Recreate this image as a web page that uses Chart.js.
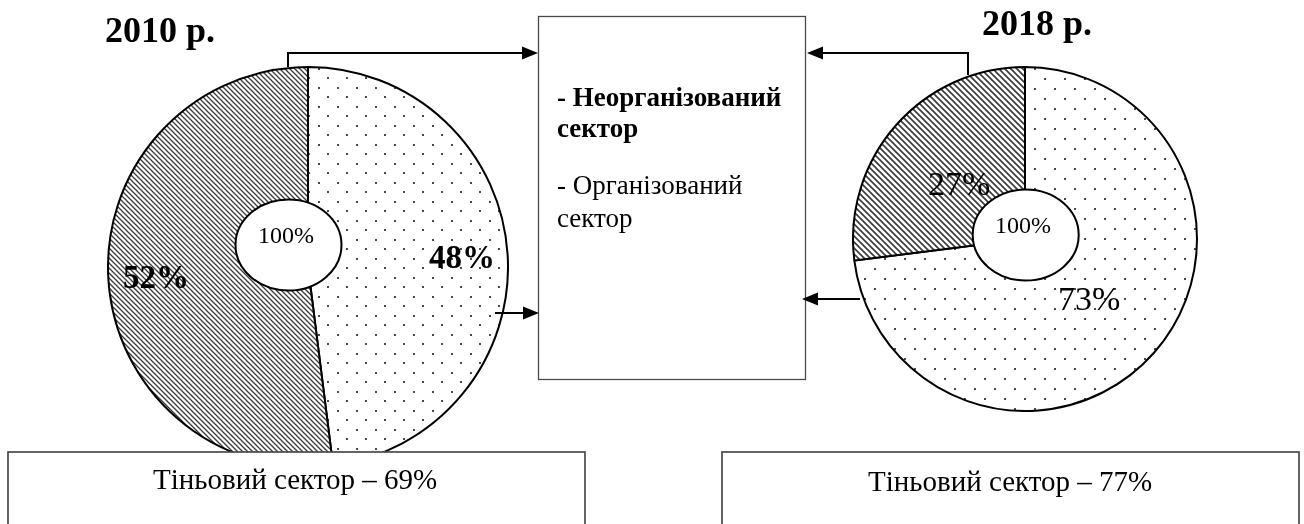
<!DOCTYPE html>
<html lang="uk">
<head>
<meta charset="utf-8">
<title>Тіньовий сектор 2010 / 2018</title>
<script src="https://cdn.jsdelivr.net/npm/chart.js@4.4.1/dist/chart.umd.min.js"></script>
<style>
    html, body { margin: 0; padding: 0; background: #fff; }
    #stage { position: relative; width: 1304px; height: 524px; overflow: hidden; }
    #stage canvas { position: absolute; }
    #pie2010 { left: 107px; top: 66px; }
    #pie2018 { left: 852px; top: 66px; }
    #overlay { position: absolute; left: 0; top: 0; pointer-events: none; }
    #overlay text { font-family: "Liberation Serif", "Times New Roman", serif; fill: #000; }
</style>
</head>
<body>
<div id="stage">
    <canvas id="pie2010" width="402" height="402"></canvas>
    <canvas id="pie2018" width="346" height="346"></canvas>
    <svg id="overlay" width="1304" height="524" xmlns="http://www.w3.org/2000/svg">
        <!-- bottom boxes cover the lower edge of the 2010 pie -->
        <rect x="8" y="452" width="577" height="100" fill="#fff" stroke="#4a4a4a" stroke-width="1.7"/>
        <rect x="722" y="452" width="577" height="100" fill="#fff" stroke="#4a4a4a" stroke-width="1.7"/>
        <text id="shadow2010" x="153" y="489" font-size="29"></text>
        <text id="shadow2018" x="868" y="491" font-size="29"></text>

        <!-- legend box -->
        <rect x="538.5" y="16.5" width="267" height="363" fill="#fff" stroke="#4a4a4a" stroke-width="1.3"/>
        <text id="legendA1" x="557" y="106" font-size="27" font-weight="bold"></text>
        <text id="legendA2" x="557" y="137" font-size="27" font-weight="bold"></text>
        <text id="legendB1" x="557" y="194" font-size="27"></text>
        <text id="legendB2" x="557" y="227" font-size="27"></text>

        <!-- arrows -->
        <g stroke="#000" stroke-width="2" fill="none">
            <path d="M288 67 V53 H523"/>
            <path d="M495 313 H524"/>
            <path d="M968 75 V53 H822"/>
            <path d="M860 299 H817"/>
        </g>
        <g fill="#000">
            <polygon points="538,53 522,46.5 522,59.5"/>
            <polygon points="539,313 523,306.5 523,319.5"/>
            <polygon points="807,53 823,46.5 823,59.5"/>
            <polygon points="802,299 818,292.5 818,305.5"/>
        </g>

        <!-- centre ellipses -->
        <ellipse cx="288.5" cy="245" rx="53" ry="45.5" fill="#fff" stroke="#000" stroke-width="2"/>
        <ellipse cx="1025.7" cy="235" rx="53" ry="45.5" fill="#fff" stroke="#000" stroke-width="2"/>
        <text id="total2010" x="258" y="243" font-size="24"></text>
        <text id="total2018" x="995" y="233" font-size="24"></text>

        <!-- titles and slice labels -->
        <text id="title2010" x="105" y="42" font-size="36" font-weight="bold"></text>
        <text id="title2018" x="982" y="35" font-size="36" font-weight="bold"></text>
        <text id="hatch2010" x="123" y="288" font-size="33" font-weight="bold"></text>
        <text id="dots2010" x="429" y="268" font-size="33" font-weight="bold"></text>
        <text id="hatch2018" x="928" y="195" font-size="34"></text>
        <text id="dots2018" x="1058" y="310" font-size="34"></text>
    </svg>
</div>
<script>
// data
const years = ['2010 р.', '2018 р.'];
const sectors = ['Організований сектор', 'Неорганізований сектор'];
const share2010 = [48, 52];   // organised (dots), unorganised (hatch)
const share2018 = [73, 27];
const shadowShare = [69, 77];
const totalLabel = '100%';

/**
 * Fill patterns for the two slices
 */
function hatchPattern(step, lineWidth) {
    const c = document.createElement('canvas');
    c.width = c.height = step;
    const g = c.getContext('2d');
    g.fillStyle = '#fff';
    g.fillRect(0, 0, step, step);
    g.strokeStyle = '#3a3a3a';
    g.lineWidth = lineWidth;
    g.beginPath();
    g.moveTo(-1, -1); g.lineTo(step + 1, step + 1);
    g.moveTo(-1, step - 1); g.lineTo(1, step + 1);
    g.moveTo(step - 1, -1); g.lineTo(step + 1, 1);
    g.stroke();
    return g.createPattern(c, 'repeat');
}

function dotPattern(step) {
    const c = document.createElement('canvas');
    c.width = c.height = step;
    const g = c.getContext('2d');
    g.fillStyle = '#fff';
    g.fillRect(0, 0, step, step);
    g.fillStyle = '#4a4a4a';
    const half = Math.floor(step / 2);
    g.fillRect(2, 2, 2, 2);
    g.fillRect(2 + half, 2 + half, 2, 2);
    return g.createPattern(c, 'repeat');
}

const Pies = {
    charts: {},

    /**
     * Build one pie
     */
    createPie(id, values, hatchStep, hatchWidth, dotStep) {
        const ctx = document.getElementById(id);
        if (!ctx) return;

        if (this.charts[id]) {
            this.charts[id].destroy();
        }

        this.charts[id] = new Chart(ctx, {
            type: 'pie',
            data: {
                labels: sectors,
                datasets: [{
                    data: values,
                    backgroundColor: [dotPattern(dotStep), hatchPattern(hatchStep, hatchWidth)],
                    borderColor: '#000',
                    borderWidth: 2
                }]
            },
            options: {
                responsive: false,
                maintainAspectRatio: false,
                devicePixelRatio: 1,
                animation: false,
                layout: { padding: 0 },
                plugins: {
                    legend: { display: false },
                    tooltip: { enabled: false }
                }
            }
        });
    },

    init() {
        this.createPie('pie2010', share2010, 5, 1.3, 19);
        this.createPie('pie2018', share2018, 6, 1.6, 20);
    }
};

function setText(id, str) {
    document.getElementById(id).textContent = str;
}

setText('title2010', years[0]);
setText('title2018', years[1]);
setText('dots2010', share2010[0] + '%');
setText('hatch2010', share2010[1] + '%');
setText('dots2018', share2018[0] + '%');
setText('hatch2018', share2018[1] + '%');
setText('total2010', totalLabel);
setText('total2018', totalLabel);
setText('legendA1', '- Неорганізований');
setText('legendA2', 'сектор');
setText('legendB1', '- Організований');
setText('legendB2', 'сектор');
setText('shadow2010', 'Тіньовий сектор – ' + shadowShare[0] + '%');
setText('shadow2018', 'Тіньовий сектор – ' + shadowShare[1] + '%');

Pies.init();
</script>
</body>
</html>
